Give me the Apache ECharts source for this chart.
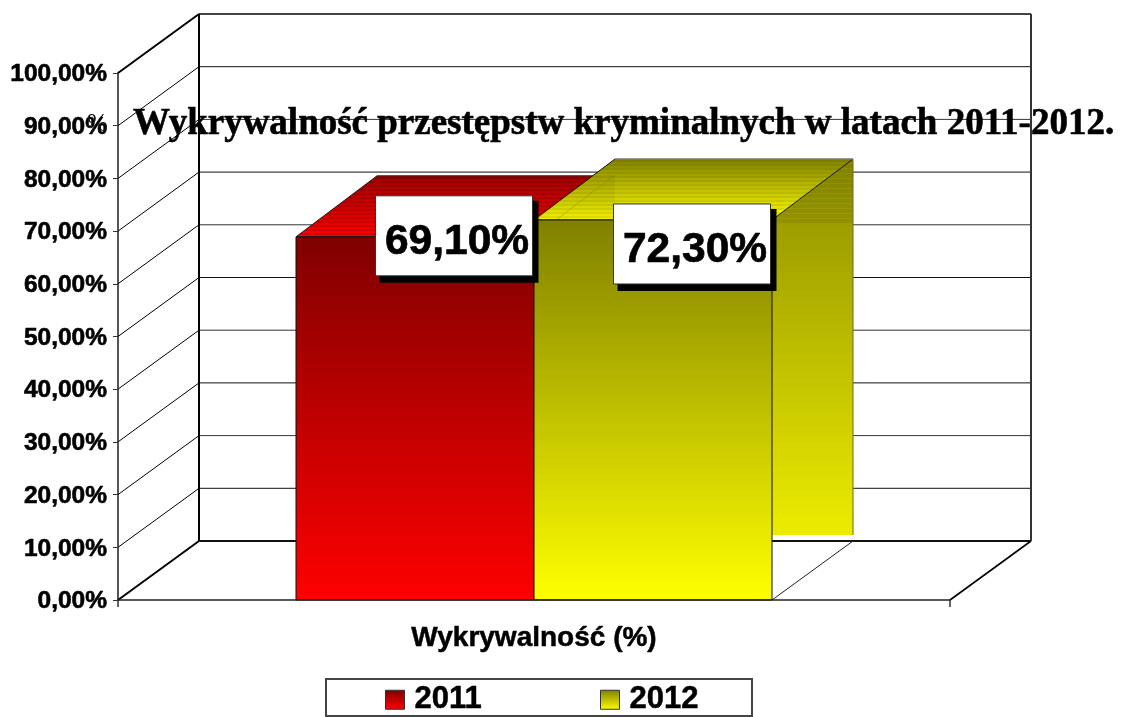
<!DOCTYPE html>
<html>
<head>
<meta charset="utf-8">
<style>html,body{margin:0;padding:0;background:#fff}#c{width:1130px;height:717px}</style>
<script src="https://cdn.jsdelivr.net/npm/echarts@6/dist/echarts.min.js"></script>
</head>
<body>
<div id="c"></div>
<script>
const titleText = 'Wykrywalność przestępstw kryminalnych w latach 2011-2012.';
const categories = ['Wykrywalność (%)'];
const seriesNames = ['2011', '2012'];
const values2011 = [69.1];
const values2012 = [72.3];
const yTicks = [0, 10, 20, 30, 40, 50, 60, 70, 80, 90, 100];

const DEPTH = [81, -59];
const BAR_DEPTH = [81, -61];
const BAR_RATIO = 238 / 832;
const LABEL_SHIFT = [[39, 0], [39, 25]];
const SANS = '"Liberation Sans", Arial, sans-serif';
const SERIF = '"Liberation Serif", "Times New Roman", serif';

const PALETTE = [
  { dark: [128, 0, 0], bright: [255, 0, 0], topDark: [160, 0, 0] },
  { dark: [128, 128, 0], bright: [255, 255, 0], topDark: [128, 128, 0] }
];

function lerp(a, b, t) { return a.map((v, i) => Math.round(v + (b[i] - v) * t)); }
function css(c) { return 'rgb(' + c.join(',') + ')'; }
function shade(c, f) { return c.map(v => Math.max(0, Math.min(255, Math.round(v * f)))); }
function lighten(c, t) { return [c[0] + (255 - c[0]) * t, c[1] + (255 - c[1]) * t, c[2]].map(Math.round); }

function vGrad(stops) { return new echarts.graphic.LinearGradient(0, 0, 0, 1, stops); }
function smooth(c0, c1) { return vGrad([{ offset: 0, color: css(c0) }, { offset: 1, color: css(c1) }]); }
function striped(c0, c1, n, amp) {
  const s = [];
  for (let k = 0; k < n; k++) {
    let col = lerp(c0, c1, (k + 0.5) / n);
    if (k % 2) col = shade(col, amp);
    s.push({ offset: k / n, color: css(col) }, { offset: (k + 1) / n, color: css(col) });
  }
  return vGrad(s);
}
function sideGrad(c0, c1, topH, fullH, clipH) {
  const s = [];
  const at = y => lerp(c0, c1, y / fullH);
  const step = 5;
  for (let y = 0; y < topH; y += step) {
    const base = at(y + 2);
    s.push({ offset: y / clipH, color: css(base) }, { offset: (y + 3.6) / clipH, color: css(base) });
    const li = lighten(base, 0.1);
    s.push({ offset: (y + 3.6) / clipH, color: css(li) }, { offset: (y + step) / clipH, color: css(li) });
  }
  s.push({ offset: topH / clipH, color: css(at(topH)) }, { offset: 1, color: css(at(clipH)) });
  return vGrad(s);
}
function line(x1, y1, x2, y2, color, w) {
  return { type: 'line', shape: { x1, y1, x2, y2 }, style: { stroke: color, lineWidth: w, fill: null } };
}
function poly(points, fill, stroke, w) {
  return { type: 'polygon', shape: { points }, style: { fill, stroke: stroke || null, lineWidth: w || 0 } };
}

function renderWall(params, api) {
  const v = api.value(1);
  const c = api.coord([0, v]);
  const band = api.size([1, 0])[0];
  const xl = c[0] - band / 2, xr = c[0] + band / 2, y = c[1];
  const bx = xl + DEPTH[0], by = y + DEPTH[1], brx = xr + DEPTH[0];
  const edge = v === 0 || v === 100;
  const kids = [
    line(xl, y, bx, by, '#000', edge ? 2 : 1),
    line(bx, by, brx, by, v === 0 ? '#111' : (v === 100 ? '#444' : (v % 20 ? '#111' : '#333')), edge ? 2 : 1)
  ];
  if (v === 0) kids.push(line(xr, y, brx, by, '#000', 1.6));
  if (v === 100) {
    const y0 = api.coord([0, 0])[1] + DEPTH[1];
    kids.push(line(bx, by, bx, y0, '#000', 2));
    kids.push(line(brx, by, brx, y0, '#333', 2));
  }
  return { type: 'group', silent: true, children: kids };
}

function renderBar(seriesIdx) {
  return function (params, api) {
    const v = api.value(1);
    const top = api.coord([0, v]);
    const base = api.coord([0, 0]);
    const bw = api.size([1, 0])[0] * BAR_RATIO;
    const x0 = seriesIdx === 0 ? top[0] - bw : top[0];
    const x1 = x0 + bw;
    const [dx, dy] = BAR_DEPTH;
    const p = PALETTE[seriesIdx];
    const yT = top[1] + 1, yB = base[1];
    const kids = [];
    const topPts = [[x0, yT], [x0 + dx, yT + dy], [x1 + dx, yT + dy], [x1, yT]];
    if (seriesIdx === 1) {
      const floorY = yB + DEPTH[1];
      const clipB = floorY - 6;
      kids.push(line(x1, yB, x1 + dx, floorY, '#222', 1));
      const sideFull = yB - (yT + dy);
      const sideClip = clipB - (yT + dy);
      kids.push(poly([[x1, yT], [x1 + dx, yT + dy], [x1 + dx, clipB], [x1, clipB]],
        sideGrad(p.dark, p.bright, -dy, sideFull, sideClip)));
      kids.push(line(x1 + dx, yT + dy, x1 + dx, clipB, '#6b6b20', 1));
    }
    kids.push(poly(topPts, striped(p.topDark, p.bright, 31, seriesIdx ? 0.93 : 0.86),
      seriesIdx ? '#111' : '#222', 1));
    if (seriesIdx === 1) {
      kids.push(line(x0 + dx, yT + dy, x1 + dx, yT + dy, '#b5b5a0', 1));
      kids.push(poly([[x0 + 58, yT - 45], [x0 + dx, yT - 45], [x0 + dx, yT], [x0, yT]], 'rgba(90,70,0,0.08)'));
      kids.push(line(x0 + 22, yT, x0 + dx, yT - 45, 'rgba(120,130,0,0.4)', 1));
    }
    kids.push(poly([[x0, yT], [x1, yT], [x1, yB], [x0, yB]], smooth(p.dark, p.bright), '#111', 1));
    return { type: 'group', silent: true, children: kids };
  };
}

function renderLabel(params, api) {
  const idx = api.value(2);
  const v = api.value(1);
  const top = api.coord([0, v]);
  const bw = api.size([1, 0])[0] * BAR_RATIO;
  const cx = top[0] + (idx === 0 ? -bw / 2 : bw / 2) + LABEL_SHIFT[idx][0];
  const cy = top[1] + LABEL_SHIFT[idx][1];
  const w = 157, h = 80;
  const text = v.toFixed(2).replace('.', ',') + '%';
  return {
    type: 'group', silent: true, children: [
      { type: 'rect', shape: { x: cx - w / 2 + 4, y: cy - h / 2 + 5, width: w + 2, height: h + 2 }, style: { fill: '#000' } },
      { type: 'rect', shape: { x: cx - w / 2, y: cy - h / 2, width: w, height: h }, style: { fill: '#fff', stroke: '#333', lineWidth: 1 } },
      { type: 'text', style: { text, x: cx + 3, y: cy + 6, align: 'center', verticalAlign: 'middle', fill: '#000', stroke: '#000', lineWidth: 0.7, font: 'bold 42.5px ' + SANS } }
    ]
  };
}

const legendIcon = i => ({
  color: smooth(PALETTE[i].dark, PALETTE[i].bright), borderColor: '#333', borderWidth: 1
});
const heavy = w => ({ textBorderColor: '#000', textBorderWidth: w });

const chart = echarts.init(document.getElementById('c'), null, { renderer: 'canvas' });
chart.setOption({
  animation: false,
  backgroundColor: '#fff',
  title: {
    text: titleText, left: 133, top: 106, padding: 0, z: 50,
    textStyle: Object.assign({ fontFamily: SERIF, fontWeight: 'bold', fontSize: 37, color: '#000' }, heavy(0.6))
  },
  legend: {
    left: 385, top: 684, padding: 0, itemGap: 118,
    itemWidth: 19, itemHeight: 19, selectedMode: false,
    textStyle: Object.assign({ fontFamily: SANS, fontWeight: 'bold', fontSize: 31, color: '#000', padding: [6, 0, 0, 5] }, heavy(0.5)),
    data: [
      { name: seriesNames[0], icon: 'rect', itemStyle: legendIcon(0) },
      { name: seriesNames[1], icon: 'rect', itemStyle: legendIcon(1) }
    ]
  },
  grid: { left: 118, right: 180, top: 73, bottom: 117, containLabel: false },
  xAxis: {
    type: 'category', data: categories,
    axisLine: { lineStyle: { color: '#222', width: 1.6 } },
    axisTick: { show: true, length: 7, lineStyle: { color: '#333', width: 1.5 } },
    axisLabel: Object.assign({ margin: 24, fontFamily: SANS, fontWeight: 'bold', fontSize: 28, color: '#000' }, heavy(0.5)),
    z: 6
  },
  yAxis: {
    type: 'value', min: 0, max: 100, interval: 10,
    axisLine: { show: true, lineStyle: { color: '#555', width: 2 } },
    axisTick: { show: true, length: 5, lineStyle: { color: '#333', width: 1 } },
    splitLine: { show: false },
    axisLabel: Object.assign({
      margin: 11, verticalAlign: 'top', padding: [-11, 0, 0, 0],
      fontFamily: SANS, fontWeight: 'bold', fontSize: 24.5, color: '#000',
      formatter: v => v.toFixed(2).replace('.', ',') + '%'
    }, heavy(0.6))
  },
  graphic: [
    { type: 'rect', z: 0, silent: true, shape: { x: 326, y: 679, width: 426, height: 37 },
      style: { fill: '#fff', stroke: '#444', lineWidth: 2 } },
    { type: 'text', left: 87, top: 112, z: 40, silent: true,
      style: { text: '%', font: '25px ' + SERIF, fill: '#111' } }
  ],
  series: [
    { type: 'custom', name: 'walls', z: 1, silent: true, renderItem: renderWall, encode: { x: 0, y: 1 },
      data: yTicks.map(t => [0, t]) },
    { type: 'custom', name: seriesNames[0], z: 2, silent: true, renderItem: renderBar(0), encode: { x: 0, y: 1 },
      data: values2011.map((v, i) => [i, v]) },
    { type: 'custom', name: seriesNames[1], z: 3, silent: true, renderItem: renderBar(1), encode: { x: 0, y: 1 },
      data: values2012.map((v, i) => [i, v]) },
    { type: 'custom', name: 'labels', z: 4, silent: true, renderItem: renderLabel, encode: { x: 0, y: 1 },
      data: [[0, values2011[0], 0], [0, values2012[0], 1]] }
  ]
});
</script>
</body>
</html>
